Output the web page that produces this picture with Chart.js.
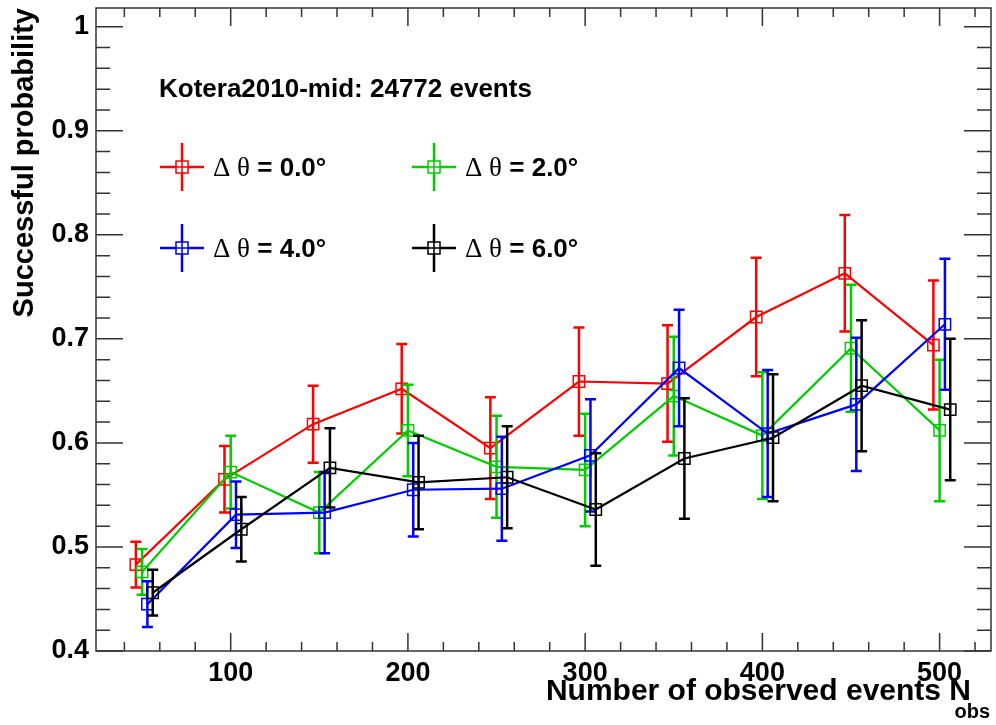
<!DOCTYPE html>
<html lang="en">
<head>
  <meta charset="UTF-8">
  <title>Successful probability vs N_obs</title>
  <script src="https://cdn.jsdelivr.net/npm/chart.js"></script>
  <style>
    html, body { margin: 0; padding: 0; background: #fff; }
    canvas { display: block; }
  </style>
</head>
<body>
  <canvas id="probChart" width="996" height="725"></canvas>

  <script>
    // data
    const nObs = [50, 100, 150, 200, 250, 300, 350, 400, 450, 500];
    const xTicks = [100, 200, 300, 400, 500];
    const yTicks = [0.4, 0.5, 0.6, 0.7, 0.8, 0.9, 1.0];

    const seriesLabels = ['0.0', '2.0', '4.0', '6.0'];

    const prob00 = [0.483, 0.565, 0.618, 0.652, 0.595, 0.659, 0.657, 0.721, 0.763, 0.694];
    const err00  = [0.022, 0.032, 0.037, 0.043, 0.049, 0.052, 0.056, 0.057, 0.056, 0.062];

    const prob20 = [0.476, 0.572, 0.533, 0.612, 0.577, 0.574, 0.645, 0.607, 0.691, 0.612];
    const err20  = [0.022, 0.035, 0.039, 0.044, 0.049, 0.054, 0.057, 0.061, 0.061, 0.068];

    const prob40 = [0.445, 0.531, 0.533, 0.555, 0.556, 0.588, 0.672, 0.609, 0.637, 0.714];
    const err40  = [0.022, 0.032, 0.039, 0.045, 0.050, 0.054, 0.056, 0.061, 0.064, 0.063];

    const prob60 = [0.456, 0.517, 0.576, 0.562, 0.567, 0.536, 0.585, 0.605, 0.655, 0.632];
    const err60  = [0.022, 0.031, 0.038, 0.045, 0.049, 0.054, 0.058, 0.061, 0.063, 0.068];

    // small horizontal shift so the series don't sit on top of each other
    const xShift = [-3.5, 0, 3, 6];
    const colors = ['#ff0000', '#00cc00', '#0000ff', '#000000'];

    const SANS = '"Liberation Sans", Arial, Helvetica, sans-serif';
    const SERIF = '"Liberation Serif", "Times New Roman", serif';
    const AXIS = '#333333';

    const allProb = [prob00, prob20, prob40, prob60];
    const allErr = [err00, err20, err40, err60];

    const datasets = allProb.map((vals, i) => ({
      label: seriesLabels[i],
      data: vals.map((v, j) => ({ x: nObs[j] + xShift[i], y: v })),
      errors: allErr[i],
      showLine: true,
      borderColor: colors[i],
      borderWidth: 2.2,
      pointStyle: 'rect',
      pointRadius: 8,
      pointBorderWidth: 1.5,
      pointBorderColor: colors[i],
      pointBackgroundColor: 'rgba(0,0,0,0)',
      order: 4 - i
    }));

    function drawErrorBar(ctx, x, yTop, yBot, color) {
      ctx.save();
      ctx.strokeStyle = color;
      ctx.lineWidth = 2.5;
      ctx.beginPath();
      ctx.moveTo(x, yTop); ctx.lineTo(x, yBot);
      ctx.moveTo(x - 5.5, yTop); ctx.lineTo(x + 5.5, yTop);
      ctx.moveTo(x - 5.5, yBot); ctx.lineTo(x + 5.5, yBot);
      ctx.stroke();
      ctx.restore();
    }

    const errorBars = {
      id: 'errorBars',
      afterDatasetDraw(chart, args) {
        const ds = chart.data.datasets[args.index];
        const { ctx, chartArea, scales } = chart;
        ctx.save();
        ctx.beginPath();
        ctx.rect(chartArea.left, chartArea.top, chartArea.right - chartArea.left, chartArea.bottom - chartArea.top);
        ctx.clip();
        ds.data.forEach((p, j) => {
          const x = scales.x.getPixelForValue(p.x);
          const yTop = scales.y.getPixelForValue(p.y + ds.errors[j]);
          const yBot = scales.y.getPixelForValue(p.y - ds.errors[j]);
          drawErrorBar(ctx, x, yTop, yBot, ds.borderColor);
        });
        ctx.restore();
      }
    };

    const frame = {
      id: 'frame',
      afterDraw(chart) {
        const { ctx, chartArea: a, scales } = chart;
        ctx.save();
        ctx.strokeStyle = AXIS;
        ctx.lineWidth = 1.5;
        ctx.strokeRect(a.left, a.top, a.right - a.left, a.bottom - a.top);

        // x ticks, bottom and top
        ctx.beginPath();
        for (let v = 40; v <= 520; v += 20) {
          const x = scales.x.getPixelForValue(v);
          const len = v % 100 === 0 ? 18 : 9;
          ctx.moveTo(x, a.bottom); ctx.lineTo(x, a.bottom - len);
          ctx.moveTo(x, a.top); ctx.lineTo(x, a.top + len);
        }
        // y ticks, left and right
        for (let k = 20; k <= 50; k++) {
          const v = k / 50;
          const y = scales.y.getPixelForValue(v);
          const len = k % 5 === 0 ? 27 : 14;
          ctx.moveTo(a.left, y); ctx.lineTo(a.left + len, y);
          ctx.moveTo(a.right, y); ctx.lineTo(a.right - len, y);
        }
        ctx.stroke();

        // axis titles
        ctx.fillStyle = '#000';
        ctx.font = 'bold 30px ' + SANS;
        ctx.textBaseline = 'alphabetic';
        ctx.textAlign = 'right';
        ctx.fillText('Number of observed events N', 971, 700);
        ctx.font = 'bold 20px ' + SANS;
        ctx.fillText('obs', 990, 718);

        ctx.save();
        ctx.translate(33, a.top);
        ctx.rotate(-Math.PI / 2);
        ctx.font = 'bold 29px ' + SANS;
        ctx.textAlign = 'right';
        ctx.fillText('Successful probability', 0, 0);
        ctx.restore();

        // header and legend
        ctx.font = 'bold 26px ' + SANS;
        ctx.textAlign = 'left';
        ctx.fillText('Kotera2010-mid: 24772 events', 159, 97);

        const spots = [[182, 167], [434, 167], [182, 248], [434, 248]];
        chart.data.datasets.forEach((ds, i) => {
          const [cx, cy] = spots[i];
          ctx.strokeStyle = ds.borderColor;
          ctx.lineWidth = 2.5;
          ctx.beginPath();
          ctx.moveTo(cx - 22, cy); ctx.lineTo(cx + 22, cy);
          ctx.moveTo(cx, cy - 24); ctx.lineTo(cx, cy + 24);
          ctx.stroke();
          ctx.fillStyle = '#fff';
          ctx.fillRect(cx - 6, cy - 6, 12, 12);
          ctx.lineWidth = 1.5;
          ctx.strokeRect(cx - 6, cy - 6, 12, 12);
          ctx.beginPath();
          ctx.moveTo(cx - 6, cy); ctx.lineTo(cx + 6, cy);
          ctx.moveTo(cx, cy - 6); ctx.lineTo(cx, cy + 6);
          ctx.stroke();

          ctx.fillStyle = '#000';
          let tx = cx + 31;
          const by = cy + 9;
          ctx.font = '27px ' + SERIF;
          ctx.fillText('\u0394', tx, by);
          tx += ctx.measureText('\u0394 ').width;
          ctx.fillText('\u03b8', tx, by);
          tx += ctx.measureText('\u03b8').width;
          ctx.font = 'bold 26px ' + SANS;
          ctx.fillText(' = ' + ds.label + '\u00b0', tx, by);
        });
        ctx.restore();
      }
    };

    const tickFont = { family: SANS, size: 27, weight: 'bold' };

    new Chart(document.getElementById('probChart'), {
      type: 'scatter',
      data: { datasets },
      options: {
        responsive: false,
        animation: false,
        layout: { autoPadding: false, padding: { left: 0, top: 8, right: 5, bottom: 0 } },
        plugins: {
          legend: { display: false },
          tooltip: { enabled: false }
        },
        scales: {
          x: {
            type: 'linear',
            min: 24,
            max: 529,
            grid: { display: false, drawTicks: false },
            border: { display: false },
            afterBuildTicks: s => { s.ticks = xTicks.map(v => ({ value: v })); },
            afterFit: s => { s.height = 74; s.paddingLeft = 0; s.paddingRight = 0; },
            ticks: {
              font: tickFont, color: '#000', padding: 6,
              maxRotation: 0, autoSkip: false,
              callback: v => String(v)
            }
          },
          y: {
            type: 'linear',
            min: 0.4,
            max: 1.018,
            grid: { display: false, drawTicks: false },
            border: { display: false },
            afterBuildTicks: s => { s.ticks = yTicks.map(v => ({ value: v })); },
            afterFit: s => { s.width = 96; s.paddingTop = 0; s.paddingBottom = 0; },
            ticks: {
              font: tickFont, color: '#000', padding: 7,
              autoSkip: false,
              callback: v => (v === 1 ? '1' : v.toFixed(1))
            }
          }
        }
      },
      plugins: [errorBars, frame]
    });
  </script>
</body>
</html>
